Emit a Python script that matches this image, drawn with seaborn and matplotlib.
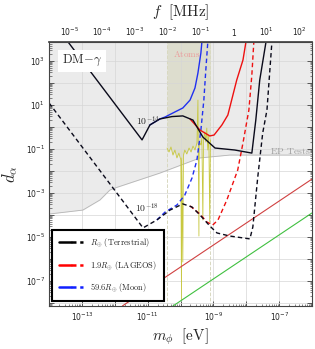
import numpy as np
import matplotlib
matplotlib.use("Agg")
import matplotlib.pyplot as plt
import seaborn as sns
from matplotlib.lines import Line2D
from matplotlib.legend_handler import HandlerTuple
from matplotlib.ticker import FixedLocator, FuncFormatter, NullFormatter

# ---------------- data (log10 values) ----------------
# Terrestrial (R_earth), 10^-14 (solid) and 10^-18 (dashed)
terr_solid_logm = [-13.42, -11.17, -10.93, -10.63, -10.26, -9.93, -9.62, -9.32, -8.95, -8.35, -7.83, -7.71, -7.59, -7.40]
terr_solid_logd = [3.86, -0.59, 0.09, 0.36, 0.47, 0.50, 0.31, -0.46, -0.96, -1.05, -1.19, 0.31, 2.13, 3.86]
terr_dash_logm = [-14.0, -11.14, -10.72, -10.32, -9.93, -9.65, -9.41, -9.11, -8.89, -8.50, -7.89, -7.80, -7.65, -7.50, -7.37, -7.22]
terr_dash_logd = [1.09, -4.59, -4.23, -3.78, -3.50, -3.64, -4.00, -4.50, -4.82, -4.96, -5.09, -4.55, -2.28, -0.28, 0.77, 3.86]
# LAGEOS (1.9 R_earth)
lag_solid_logm = [-9.71, -9.41, -9.11, -8.98, -8.74, -8.56, -8.29, -8.10, -8.01]
lag_solid_logd = [0.36, -0.14, -0.41, -0.37, 0.09, 0.54, 2.13, 3.04, 3.86]
lag_dash_logm = [-9.71, -9.41, -9.20, -9.02, -8.86, -8.59, -8.26, -8.10, -7.92, -7.83, -7.77]
lag_dash_logd = [-3.59, -3.96, -4.32, -4.46, -4.23, -3.32, -1.96, -0.73, 0.77, 2.36, 3.86]
# Moon (59.6 R_earth)
moon_solid_logm = [-10.93, -10.63, -10.47, -10.17, -9.93, -9.71, -9.56, -9.47, -9.38, -9.35]
moon_solid_logd = [0.09, 0.36, 0.45, 0.68, 0.86, 1.22, 1.77, 2.45, 3.36, 3.86]
moon_dash_logm = [-10.72, -10.47, -10.11, -9.87, -9.65, -9.50, -9.38, -9.29, -9.23, -9.17]
moon_dash_logd = [-4.23, -3.87, -3.55, -3.10, -2.32, -1.50, -0.14, 1.22, 2.59, 3.86]
# EP tests boundary
ep_logm = [-14.0, -12.97, -12.45, -12.15, -12.0, -10.63, -9.41, -8.50, -7.28, -6.0]
ep_logd = [-3.96, -3.78, -3.32, -2.87, -2.78, -2.10, -1.41, -1.28, -1.28, -1.28]
# Atoms (noisy curve)
atom_logm = [-10.41, -10.35, -10.29, -10.23, -10.17, -10.11, -10.05, -9.99, -9.97, -9.96, -9.93, -9.91,
             -9.87, -9.81, -9.74, -9.68, -9.62, -9.56, -9.50, -9.47, -9.46, -9.44, -9.43, -9.38,
             -9.35, -9.32, -9.30, -9.26, -9.23, -9.20, -9.17, -9.14, -9.11, -9.09]
atom_logd = [-0.96, -1.14, -0.91, -1.28, -1.05, -1.41, -1.19, -1.50, -7.87, -1.41, -6.14, -1.28,
             -1.05, -1.23, -0.96, -1.14, -0.87, -1.05, -0.73, 1.22, -0.82, -4.96, -0.69, -0.82,
             -0.50, -4.23, -0.59, -0.23, -0.69, -0.05, -1.05, -0.37, -4.32, -0.59]
# straight reference lines
red_line_logm = [-11.77, -6.0]
red_line_logd = [-8.14, -2.37]
green_line_logm = [-10.23, -6.0]
green_line_logd = [-8.14, -3.91]

legend_labels = [r"$R_{\oplus}\ \mathrm{(Terrestrial)}$",
                 r"$1.9R_{\oplus}\ \mathrm{(LAGEOS)}$",
                 r"$59.6R_{\oplus}\ \mathrm{(Moon)}$"]
f_ticks_exp = [-5, -4, -3, -2, -1, 0, 1, 2]
f_tick_labels = [r"$10^{-5}$", r"$10^{-4}$", r"$10^{-3}$", r"$10^{-2}$", r"$10^{-1}$", r"$1$", r"$10^{1}$", r"$10^{2}$"]
EV_TO_MHZ = 2.418e8

XLIM = (1e-14, 1e-6)
YLIM = (10 ** -8.14, 10 ** 3.86)

# ---------------- style ----------------
sns.set_theme(style="white")
plt.rcParams["font.family"] = ["DejaVu Sans"]
plt.rcParams["mathtext.fontset"] = "dejavusans"

fig = plt.figure(figsize=(3.15, 3.49), dpi=100)
ax = fig.add_axes([0.1556, 0.1232, 0.8349, 0.7565])
ax.set_xscale("log")
ax.set_yscale("log")
ax.set_xlim(*XLIM)
ax.set_ylim(*YLIM)
ax.set_axisbelow(True)

def P(a):
    return 10.0 ** np.asarray(a, dtype=float)

# EP shaded region
ax.fill_between(P(ep_logm), P(ep_logd), YLIM[1], color="#ebebeb", zorder=0.1, lw=0)
sns.lineplot(x=P(ep_logm), y=P(ep_logd), ax=ax, sort=False, estimator=None, color="#b5b5b5", lw=0.6)

# Atoms band (filled above the noisy curve, without the narrow spikes)
am = np.asarray(atom_logm)
ad = np.asarray(atom_logd)
keep = (ad > -2.0) & (ad < 0.5)
ax.fill_between(P(am[keep]), P(ad[keep]), YLIM[1], color="olive", alpha=0.12, zorder=0.3, lw=0)
for xm in (atom_logm[0], atom_logm[-1]):
    ax.axvline(10 ** xm, color="#d8d8c0", lw=0.7, ls="--", zorder=0.4)
sns.lineplot(x=P(atom_logm), y=P(atom_logd), ax=ax, sort=False, estimator=None, color="#c8c840", lw=0.6)

# reference diagonal lines
sns.lineplot(x=P(red_line_logm), y=P(red_line_logd), ax=ax, sort=False, estimator=None, color="#d04040", lw=0.8)
sns.lineplot(x=P(green_line_logm), y=P(green_line_logd), ax=ax, sort=False, estimator=None, color="#40c040", lw=0.8)

def curve(xs, ys, color, dashed, lw=1.0):
    sns.lineplot(x=P(xs), y=P(ys), ax=ax, sort=False, estimator=None, color=color, lw=lw)
    if dashed:
        ax.lines[-1].set_dashes((3.2, 2.2))

curve(moon_solid_logm, moon_solid_logd, "#2030f0", False)
curve(moon_dash_logm, moon_dash_logd, "#2030f0", True)
curve(lag_solid_logm, lag_solid_logd, "#ee1010", False)
curve(lag_dash_logm, lag_dash_logd, "#ee1010", True)
curve(terr_solid_logm, terr_solid_logd, "#0a0a1a", False)
curve(terr_dash_logm, terr_dash_logd, "#0a0a1a", True)

# grid
ax.grid(True, which="major", color="#d6d6d6", lw=0.5)
ax.grid(False, which="minor")

# ticks
xmaj = 10.0 ** np.arange(-14, -5)
ymaj = 10.0 ** np.arange(-8, 4)
ax.xaxis.set_major_locator(FixedLocator(xmaj))
ax.yaxis.set_major_locator(FixedLocator(ymaj))
def odd_fmt(v, pos):
    e = int(round(np.log10(v)))
    return r"$10^{%d}$" % e if e % 2 != 0 else ""
ax.xaxis.set_major_formatter(FuncFormatter(odd_fmt))
ax.yaxis.set_major_formatter(FuncFormatter(odd_fmt))
minors_x = [d * 10.0 ** e for e in range(-14, -6) for d in range(2, 10)]
minors_y = [d * 10.0 ** e for e in range(-9, 4) for d in range(2, 10)]
ax.xaxis.set_minor_locator(FixedLocator(minors_x))
ax.yaxis.set_minor_locator(FixedLocator(minors_y))
ax.xaxis.set_minor_formatter(NullFormatter())
ax.yaxis.set_minor_formatter(NullFormatter())
ax.tick_params(which="major", direction="in", length=3.5, width=0.7, color="#555555",
               labelsize=5.5, left=True, right=True, bottom=True, top=False, pad=3, labelcolor="#222222")
ax.tick_params(which="minor", direction="in", length=1.8, width=0.5, color="#555555",
               left=True, right=True, bottom=True, top=False)
for sp in ax.spines.values():
    sp.set_color("#444444")
    sp.set_linewidth(0.8)

# top frequency axis
secax = ax.secondary_xaxis("top", functions=(lambda m: m * EV_TO_MHZ, lambda f: f / EV_TO_MHZ))
secax.xaxis.set_major_locator(FixedLocator(10.0 ** np.array(f_ticks_exp, dtype=float)))
secax.set_xticklabels(f_tick_labels)
minors_f = [d * 10.0 ** e for e in range(-6, 3) for d in range(2, 10)]
secax.xaxis.set_minor_locator(FixedLocator(minors_f))
secax.xaxis.set_minor_formatter(NullFormatter())
secax.tick_params(which="major", direction="in", length=3.5, width=0.7, color="#555555",
                  labelsize=5.5, pad=3, labelcolor="#222222")
secax.tick_params(which="minor", direction="in", length=1.8, width=0.5, color="#555555")
secax.spines["top"].set_color("#444444")
secax.set_xlabel(r"$f\ \ [\mathrm{MHz}]$", fontsize=11, math_fontfamily="cm", labelpad=7)

ax.set_xlabel(r"$m_{\phi}\ \ [\mathrm{eV}]$", fontsize=11, math_fontfamily="cm", labelpad=3)
ax.set_ylabel(r"$d_{\alpha}$", fontsize=12, math_fontfamily="cm", labelpad=4)

# annotations
ax.text(10 ** -13.0, 10 ** 3.0, r"$\mathrm{DM}\!-\!\gamma$", fontsize=9, math_fontfamily="cm",
        ha="center", va="center", bbox=dict(facecolor="white", edgecolor="none", pad=2.5), zorder=5)
ax.text(10 ** -10.99, 10 ** 0.27, r"$10^{-14}$", fontsize=7, math_fontfamily="cm", ha="center", va="center")
ax.text(10 ** -11.02, 10 ** -3.69, r"$10^{-18}$", fontsize=7, math_fontfamily="cm", ha="center", va="center")
ax.text(10 ** -9.82, 10 ** 3.31, r"$\mathrm{Atoms}$", fontsize=6.5, math_fontfamily="cm", color="#eb9a9a",
        ha="center", va="center")
ax.text(10 ** -6.67, 10 ** -1.09, r"$\mathrm{EP\ Tests}$", fontsize=7, math_fontfamily="cm", color="#a0a0a0",
        ha="center", va="center")

# legend
handles = []
for c in ("#000000", "#ff0000", "#1020ff"):
    l1 = Line2D([], [], color=c, lw=1.8)
    l2 = Line2D([], [], color=c, lw=1.8, dashes=(2.0, 1.5))
    handles.append((l1, l2))
leg = ax.legend(handles, legend_labels, handler_map={tuple: HandlerTuple(ndivide=None, pad=0.0)},
                loc="lower left", bbox_to_anchor=(0.011, 0.019), borderaxespad=0, fontsize=6.0,
                handlelength=2.9, handletextpad=0.9, labelspacing=1.15, borderpad=0.8,
                frameon=True, fancybox=False, framealpha=1)
leg.get_frame().set_edgecolor("black")
leg.get_frame().set_linewidth(1.5)
leg.set_zorder(10)
for t in leg.get_texts():
    t.set_math_fontfamily("cm")

fig.savefig("out.png", dpi=100)
